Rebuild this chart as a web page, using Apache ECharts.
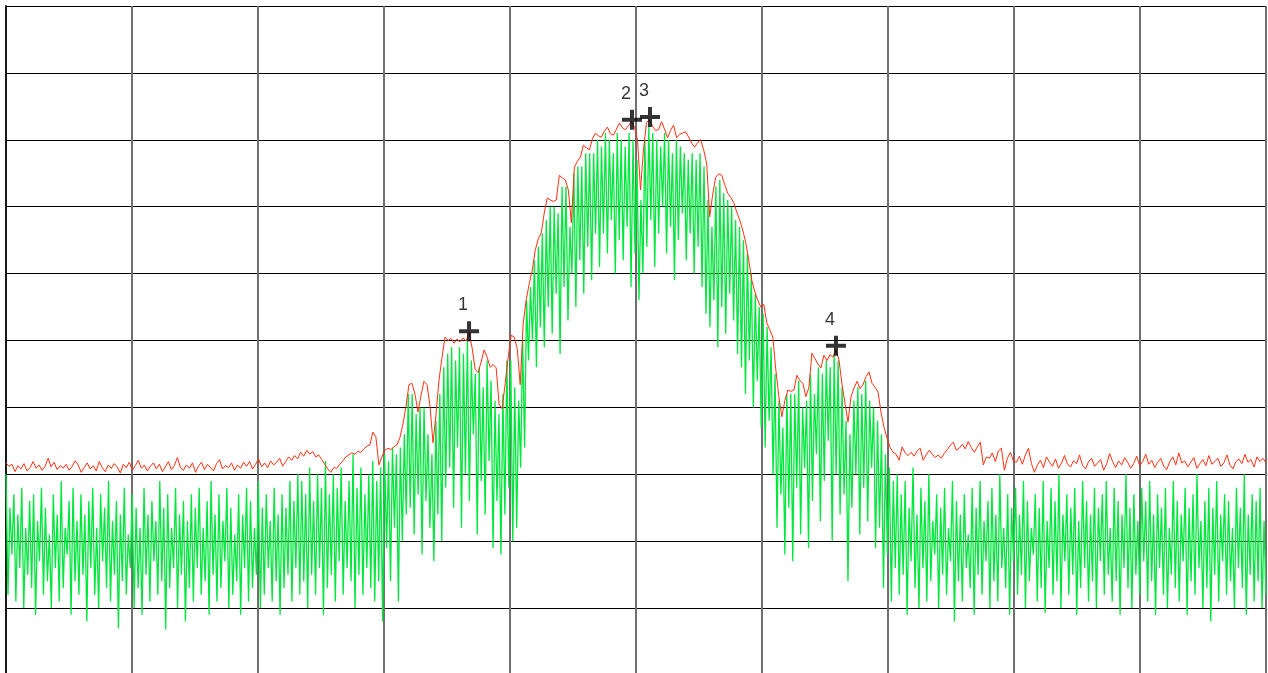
<!DOCTYPE html>
<html>
<head>
<meta charset="utf-8">
<script src="https://cdn.jsdelivr.net/npm/echarts@6/dist/echarts.min.js"></script>
<style>
  html, body { margin: 0; padding: 0; background: #fff; }
  #chart { width: 1268px; height: 673px; }
</style>
</head>
<body>
<div id="chart"></div>
<script>
// Span across the screen (10 divisions) and level scale (10 divisions)
const xTicks = [0, 100, 200, 300, 400, 500, 600, 700, 800, 900, 1000];
const yTicks = [0, 10, 20, 30, 40, 50, 60, 70, 80, 90, 100];

// Live sweep (green), one value per sweep point
const clearWrite = [
  30,12,25,18,27,11,24,16,28,10,22,15,26,13,27,9,23,17,28,12,
  25,14,21,10,27,16,24,11,29,13,22,18,26,9,28,14,23,12,27,15,
  24,8,26,16,28,12,22,10,27,17,25,13,29,11,23,15,26,7,24,14,
  28,12,21,16,27,10,25,13,22,9,28,15,24,11,26,17,23,12,29,14,
  25,6.8,27,13,22,16,28,10,24,15,26,8,23,13,27,11,25,16,28,12,
  22,14,26,9,29,15,24,11,27,13,23,17,28,10,25,12,21,14,27,9,
  24,16,28,11,26,13,22,15,29,10,25,12,27,16,23,11,28,14,24,9,
  27,13,25,15,29,11,26,16,30,
  12,
  29,14,27,10,31,15,26,12,30,16,28,9,32,13,27,15,30,11,28,17,
  31,12,26,16,29,14,33,10,28,15,31,12,27,16,30,13,32,11,29,14,
  31,8,33,19,32,14,34,22,33,11,34,20,36,24,42,
  25,42,21,39,27,40,18,40,26,36,22,33,17,38,24,42,20,46,
  28,48,31,49,25,47,34,49,22,48,30,50,26,47,36,45,21,46,29,43,24,47,32,44,19,41,26,
  39,18,42,24,47,28,47,20,43,22,41,31,50,
  34,56,47,58,50,62,46,64,52,66,49,68,55,70,51,70,57,69,
  48,73,58,73,53,67,60,75,55,76,62,76,57,78,64,78,59,78,66,80,
  61,79,66,81,63,80,68,78,60,81,65,80,62,79,67,81,58,80,63,77,56,71,60,
  80,64,82,68,81,61,80,66,79,70,81,63,80,67,78,59,80,65,79,69,78,62,77,66,78,60,77,64,
  78,58,76,54,71,52,67,56,73,49,74,55,72,51,71,57,70,53,68,48,
  67,46,65,42,63,47,60,40,57,44,55,37,54,34,52,
  38,49,30,45,22,41,27,37,18,42,25,42,17,42,28,44,
  21,40,31,41,19,45,26,42,33,46,23,45,29,47,35,46,20,48,30,47,24,43,27,38,14,
  36,25,41,30,43,21,42,28,44,23,41,31,40,19,38,
  22,36,13,33,18,31,11,29,16,30,
  12,27,15,29,9,25,17,31,13,24,10,28,16,26,11,30,14,23,18,27,
  10,25,15,28,12,22,17,29,8,26,14,24,11,27,16,21,13,28,9,25,
  15,29,12,23,17,26,10,28,14,24,11,30,16,22,13,27,9,25,17,28,
  12,24,15,29,10,26,14,22,18,27,11,25,13,29,9.3,23,16,28,12,26,
  14,30,10,24,17,27,12,25,15,28,9,23,13,29,16,26,11,24,14,28,
  10,25,17,27,12,29,15,22,11,28,14,26,9,24,16,30,13,25,10,27,
  15,23,12,28,17,26,11,29,14,24,9,27,16,25,12,28,10,22,15,29,
  13,26,11,24,17,28,9,25,14,27,12,30,16,23,10,26,13,28,8,25,
  15,29,11,24,17,27,12,26,14,22,10,28,16,25,13,30,9,24,15,27,
  11,26,14,28,10,23,12
];

// Max hold (red), one value per sweep point
const maxHold = [
  31.7,31.2,31.5,30.4,31.3,30.8,31.6,30.5,31.0,31.9,30.9,31.4,30.6,31.2,32.4,31.1,31.8,30.7,31.3,30.9,
  31.5,30.6,31.2,32.0,31.4,30.3,31.0,31.7,30.8,31.3,30.5,31.9,31.0,30.4,31.4,30.9,31.6,31.1,30.2,31.5,
  31.0,31.8,30.6,31.3,32.1,30.9,31.4,30.5,31.2,31.7,30.8,31.5,30.4,31.1,31.9,30.7,31.3,32.5,31.0,30.6,
  31.4,30.9,31.7,30.3,31.2,31.8,30.7,31.5,31.0,30.5,31.6,32.2,30.8,31.3,31.0,31.7,30.6,31.4,30.9,31.8,
  31.2,31.9,30.8,31.5,32.3,31.1,31.7,31.0,32.0,31.4,31.8,32.4,31.2,31.9,32.6,32.1,32.8,32.3,
  33.3,32.7,33.6,33.0,33.4,32.6,32.9,
  32.2,31.5,30.8,30.3,31.0,30.9,31.5,
  32.0,32.6,32.9,33.2,33.0,33.4,33.3,33.8,34.2,34.4,36.3,35.6,
  31.4,32.6,33.6,33.9,33.7,34.1,34.4,35.5,37.5,40.1,43.4,43.6,42.0,39.3,41.8,43.9,43.4,40.2,34.7,39.0,
  44.1,47.5,50.5,50.0,50.3,49.6,50.2,49.8,50.4,49.9,51.2,48.9,45.7,45.2,46.8,48.6,47.5,46.0,46.4,45.9,
  40.4,39.8,43.6,47.5,50.8,50.5,48.8,43.4,52.6,56.1,58.5,60.5,63.5,65.2,66.1,69.1,71.3,71.0,70.8,71.0,
  74.7,74.3,74.0,72.5,67.6,75.9,76.8,77.4,79.2,78.8,78.5,80.1,81.0,80.6,80.4,81.3,81.9,80.9,80.7,81.6,
  82.5,81.8,81.5,82.1,82.7,81.9,80.0,72.5,78.6,82.6,83.0,82.0,81.4,81.5,82.7,81.6,80.3,81.4,82.2,80.3,
  80.8,81.0,81.2,80.4,79.5,78.9,79.6,80.0,78.5,76.5,68.5,71.8,74.4,74.9,74.7,73.3,72.0,71.4,70.6,69.2,
  68.0,66.5,64.6,62.0,59.0,57.3,56.0,55.0,55.4,52.6,51.6,50.5,45.6,41.6,38.6,41.0,42.6,42.4,42.6,44.8,
  44.0,43.6,41.6,43.0,48.1,47.3,46.5,45.9,47.8,47.0,47.9,47.5,48.6,47.1,43.5,40.6,37.8,41.6,42.9,43.9,
  42.8,43.4,44.6,45.3,43.6,43.0,42.3,39.2,37.0,35.4,34.0,33.3,33.0,32.1,34.1,33.2,32.8,33.3,32.7,33.5,
  33.9,32.1,32.9,33.6,33.0,32.5,32.9,32.4,33.1,33.7,34.3,34.8,33.6,33.9,34.5,33.8,34.9,34.0,33.3,34.1,
  34.8,31.4,32.6,32.4,33.2,31.9,33.5,33.9,30.6,32.4,33.3,32.0,31.8,32.7,31.5,32.9,33.9,31.6,30.3,
  31.4,32.1,31.0,32.6,31.8,31.2,32.3,30.9,31.7,32.8,31.5,31.1,32.0,31.6,32.9,31.3,30.8,31.9,32.4,31.2,
  31.7,32.2,30.6,31.5,33.1,31.9,31.0,32.0,31.4,32.5,31.8,30.9,31.6,32.7,31.3,31.9,33.0,31.5,32.1,31.0,
  31.8,32.4,31.2,30.7,31.9,32.6,31.4,33.2,31.7,32.0,31.1,31.8,32.5,30.9,31.6,32.2,31.3,32.8,31.5,31.9,
  32.4,31.2,31.7,32.9,31.4,30.8,31.9,32.3,31.6,33.0,31.8,32.2,31.1,32.6,31.9,32.4,31.7
];

// Peak markers: label, position across the span, level
const markerNames = ['1', '2', '3', '4'];
const markerX = [367.5, 496.8, 511.1, 658.7];
const markerY = [51.4, 83.0, 83.4, 49.2];

const SPAN = 1000;
const toPoints = arr => arr.map((v, i) => [i * SPAN / (arr.length - 1), v]);

const chart = echarts.init(document.getElementById('chart'), null, { renderer: 'canvas' });

chart.setOption({
  animation: false,
  backgroundColor: '#ffffff',
  grid: { left: 6, top: 6, width: 1260, height: 669, outerBoundsMode: 'none', containLabel: false },
  xAxis: {
    type: 'value', min: xTicks[0], max: xTicks[xTicks.length - 1], interval: 100,
    axisLine: { show: false }, axisTick: { show: false }, axisLabel: { show: false },
    splitLine: { show: true, showMinLine: true, showMaxLine: true, lineStyle: { color: '#6f6f6f', width: 2 } }
  },
  yAxis: {
    type: 'value', min: yTicks[0], max: yTicks[yTicks.length - 1], interval: 10,
    axisLine: { show: true, lineStyle: { color: '#1a1a1a', width: 2 } },
    axisTick: { show: false }, axisLabel: { show: false },
    splitLine: { show: true, showMinLine: true, showMaxLine: true, lineStyle: { color: '#000000', width: 1 } }
  },
  series: [
    {
      name: 'Clear Write', type: 'line', data: toPoints(clearWrite),
      symbol: 'none', silent: true,
      lineStyle: { color: '#00e83c', width: 1.3 }
    },
    {
      name: 'Max Hold', type: 'line', data: toPoints(maxHold),
      symbol: 'none', silent: true,
      lineStyle: { color: '#ff3010', width: 1 }
    },
    {
      name: 'Markers', type: 'scatter',
      data: markerNames.map((n, k) => ({ name: n, value: [markerX[k], markerY[k]] })),
      symbol: 'path://M8,0h4v8h8v4h-8v8h-4v-8h-8v-4h8z',
      symbolSize: 20,
      itemStyle: { color: '#000000' },
      label: {
        show: true, position: 'top', distance: 7, offset: [-6, 0],
        formatter: p => p.name,
        color: '#000000', fontSize: 18, fontFamily: 'Liberation Sans, Arial, sans-serif'
      },
      z: 5
    }
  ]
});
</script>
</body>
</html>
